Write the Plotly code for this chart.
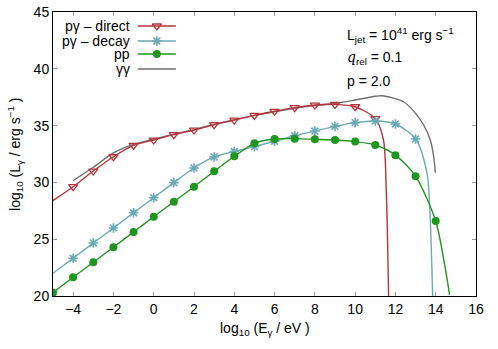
import plotly.graph_objects as go

# Values (log10 E in eV, log10 L in erg/s)
direct_mx = list(range(-4, 12))
direct_my = [29.62, 31.0, 32.26, 33.26, 33.73, 34.2, 34.61, 35.08, 35.49,
             35.9, 36.26, 36.58, 36.81, 36.87, 36.66, 35.61]
direct_lx = [-5] + direct_mx + [11.4, 11.55, 11.66]
direct_ly = [28.4] + direct_my + [33.8, 29.0, 20.0]

decay_mx = list(range(-4, 14))
decay_my = [23.32, 24.67, 25.99, 27.33, 28.65, 29.98, 31.27, 32.24, 32.72,
            33.15, 33.62, 34.11, 34.52, 34.93, 35.26, 35.4, 35.14, 33.82]
decay_lx = [-5] + decay_mx + [13.57, 13.7, 13.85]
decay_ly = [22.0] + decay_my + [30.8, 27.9, 20.0]

pp_mx = list(range(-5, 15))
pp_my = [20.29, 21.65, 22.97, 24.29, 25.63, 26.98, 28.3, 29.62, 30.98, 32.3,
         33.44, 33.82, 33.85, 33.79, 33.73, 33.6, 33.29, 32.4, 30.54, 26.6]
pp_lx = pp_mx + [14.4, 14.69]
pp_ly = pp_my + [23.2, 20.1]

gg_x = [-4, -3, -2, -1, 0, 1, 2, 3, 4, 5, 6, 7, 8, 9, 10, 11, 11.33,
        12.4, 13, 13.4, 13.73, 13.9, 13.98]
gg_y = [30.15, 31.33, 32.6, 33.35, 33.8, 34.25, 34.65, 35.1, 35.5, 35.9,
        36.22, 36.52, 36.76, 36.95, 37.25, 37.58, 37.63,
        37.1, 36.08, 35.05, 33.73, 32.26, 30.85]

x_ticks = list(range(-4, 17, 2))
y_ticks = [20, 25, 30, 35, 40, 45]

RED = '#b8323a'
TEAL = '#6aaab4'
GREEN = '#1f961f'
GRAY = '#6e6e6e'
FONT = 'Liberation Sans, Arial, sans-serif'
FS = 14

fig = go.Figure()

series = [
    ('pγ – direct', direct_lx, direct_ly, direct_mx, direct_my, RED,
     dict(symbol='triangle-down-open', size=8, color=RED, line=dict(color=RED, width=1.3))),
    ('pγ – decay', decay_lx, decay_ly, decay_mx, decay_my, TEAL,
     dict(symbol='asterisk-open', size=8, color=TEAL, line=dict(color=TEAL, width=1.6))),
    ('pp', pp_lx, pp_ly, pp_mx, pp_my, GREEN,
     dict(symbol='circle', size=8, color=GREEN, line=dict(width=0))),
]

fig.add_trace(go.Scatter(x=gg_x, y=gg_y, mode='lines',
                         line=dict(color=GRAY, width=1.4, shape='spline', smoothing=0.8),
                         showlegend=False, hoverinfo='skip'))

for name, lx, ly, mx, my, col, mk in series:
    fig.add_trace(go.Scatter(x=lx, y=ly, mode='lines',
                             line=dict(color=col, width=1.4, shape='spline', smoothing=0.8),
                             showlegend=False, hoverinfo='skip'))
    fig.add_trace(go.Scatter(x=mx, y=my, mode='markers', marker=mk,
                             showlegend=False, name=name))

# gnuplot-style key (text on the left, sample on the right), drawn on an overlay axis
key_rows = [0.9507, 0.8979, 0.8521, 0.7993]
key_items = [(s[0], s[5], s[6]) for s in series] + [('γγ', GRAY, None)]
annotations = []
for (name, col, mk), ky in zip(key_items, key_rows):
    fig.add_trace(go.Scatter(x=[0.2005, 0.2905], y=[ky, ky], mode='lines',
                             line=dict(color=col, width=1.4), xaxis='x2', yaxis='y2',
                             showlegend=False, hoverinfo='skip'))
    if mk is not None:
        fig.add_trace(go.Scatter(x=[0.2455], y=[ky], mode='markers', marker=mk,
                                 xaxis='x2', yaxis='y2', showlegend=False, hoverinfo='skip'))
    annotations.append(dict(x=0.186, y=ky, xref='paper', yref='paper', text=name,
                            showarrow=False, xanchor='right', yanchor='middle',
                            font=dict(size=FS, color='black', family=FONT)))

info = [
    'L<sub>jet</sub> = 10<sup>41</sup> erg s<sup>−1</sup>',
    "<span style='font-family:DejaVu Serif'><i>q</i></span><sub>rel</sub> = 0.1",
    'p = 2.0',
]
for txt, ky in zip(info, [0.919, 0.838, 0.757]):
    annotations.append(dict(x=0.6906, y=ky, xref='paper', yref='paper', text=txt,
                            showarrow=False, xanchor='left', yanchor='middle',
                            font=dict(size=FS, color='black', family=FONT)))

# axis titles as annotations so the plot area stays where the reference has it
annotations.append(dict(x=0.5, y=-0.077, xref='paper', yref='paper',
                        text='log<sub>10</sub> (E<sub>γ</sub> / eV )', showarrow=False,
                        xanchor='center', yanchor='top',
                        font=dict(size=FS, color='black', family=FONT)))
annotations.append(dict(x=-0.09, y=0.5, xref='paper', yref='paper', textangle=-90,
                        text='log<sub>10</sub> (L<sub>γ</sub> / erg s<sup>−1</sup> )',
                        showarrow=False, xanchor='center', yanchor='middle',
                        font=dict(size=FS, color='black', family=FONT)))

axis_common = dict(showline=True, linecolor='black', linewidth=1, mirror='ticks',
                   ticks='inside', ticklen=4, tickcolor='#999999', showgrid=False,
                   zeroline=False, automargin=False,
                   tickfont=dict(size=FS, color='black', family=FONT))

fig.update_layout(
    width=498, height=349,
    margin=dict(l=53, r=22, t=12, b=53),
    paper_bgcolor='white', plot_bgcolor='white',
    showlegend=False,
    annotations=annotations,
    xaxis=dict(range=[-5, 16], tickvals=x_ticks, **axis_common),
    yaxis=dict(range=[20, 45], tickvals=y_ticks, **axis_common),
    xaxis2=dict(range=[0, 1], overlaying='x', visible=False, anchor='y2'),
    yaxis2=dict(range=[0, 1], overlaying='y', visible=False, anchor='x2'),
)

# drop the browser's default body margin so the figure sits at the page corner
fig.write_html("out.html", config={'displayModeBar': False},
               post_script="document.body.style.margin='0';")
